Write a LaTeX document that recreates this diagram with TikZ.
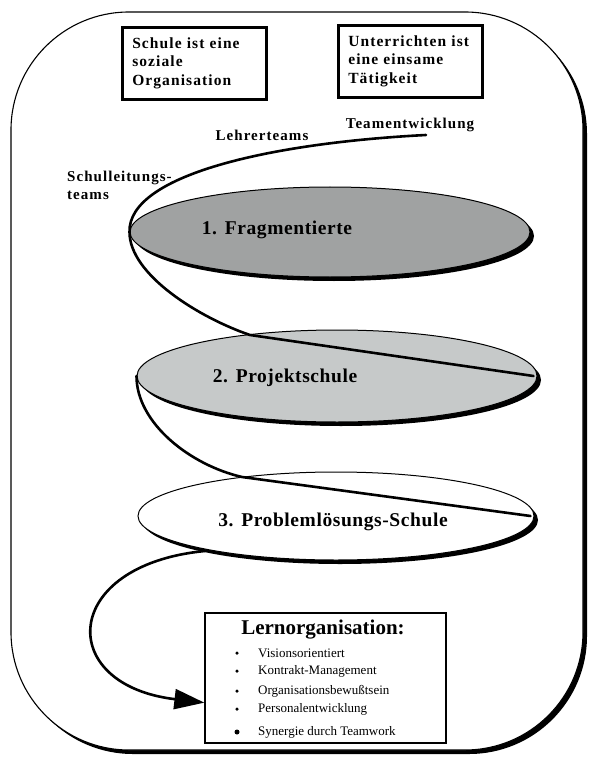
\documentclass[tikz,border=0pt]{standalone}
\usepackage{fontspec}
\setmainfont{Liberation Serif}
\newfontfamily\spacedserif[LetterSpace=7]{Liberation Serif}
\newfontfamily\lightspaced[LetterSpace=3]{Liberation Serif}
\usetikzlibrary{arrows.meta,shapes.geometric,shadows,calc}
\definecolor{fragfill}{RGB}{160,162,162}
\definecolor{projfill}{RGB}{198,201,201}
\newcommand\boxfont{\spacedserif\bfseries\fontsize{15.5}{18.5}\selectfont}
\newcommand\tagfont{\spacedserif\bfseries\fontsize{15}{18}\selectfont}
\newcommand\stagefont{\lightspaced\bfseries\fontsize{19.5}{22}\selectfont}
\begin{document}
\begin{tikzpicture}[x=1pt,y=-1pt,
  thesis/.style={draw, line width=2.6pt, text width=124pt, inner xsep=10pt,
    minimum height=72pt, align=left, font=\boxfont, anchor=north west},
  stage/.style={ellipse, draw=black, line width=1pt, inner sep=0pt,
    drop shadow={shadow xshift=4pt, shadow yshift=-4pt, opacity=1, fill=black}},
  spiral/.style={line width=2.6pt, line cap=round},
  tag/.style={font=\tagfont, inner sep=0pt},
  stagelabel/.style={font=\stagefont, inner sep=0pt},
  item/.style={font=\fontsize{13}{15}\selectfont, anchor=west, inner sep=0pt},
  dot/.style={circle, fill=black, inner sep=0pt, minimum size=3.5pt},
]
\useasboundingbox (0,0) rectangle (589,759);

% outer frame with its shadow on the right and at the bottom
\fill[rounded corners=118pt] (15,16) rectangle (587,754);
\draw[fill=white, line width=1.1pt, rounded corners=118pt] (11,12) rectangle (583,750);

% the two statements at the top
\node[thesis] (social) at (121,26) {Schule ist eine\\soziale\\Organisation};
\node[thesis] (lonely) at (337,24) {Unterrichten ist\\eine einsame\\Tätigkeit};

% the three stages
\node[stage, fill=fragfill, minimum width=400pt, minimum height=90pt] (frag) at (330,232) {};
\node[stage, fill=projfill, minimum width=400pt, minimum height=92pt] (proj) at (337,376) {};
\node[stage, fill=white, minimum width=396pt, minimum height=88pt] (prob) at (336,516) {};

\node[stagelabel] (fragtext) at (277,230) {1.\hspace{0.4em}Fragmentierte};
\node[stagelabel] (projtext) at (285,378) {2.\hspace{0.4em}Projektschule};
\node[stagelabel] (probtext) at (333,522) {3.\hspace{0.4em}Problemlösungs-Schule};

% team labels along the spiral
\node[tag] (devel) at (410,125) {Teamentwicklung};
\node[tag] (teachers) at (262,135) {Lehrerteams};
\node[tag, align=left, anchor=west] (heads) at (67,185) {Schulleitungs-\\teams};

% the spiral winding down through the stages
\coordinate (spiralstart) at (426,135);
\coordinate (in2) at (250,335);
\coordinate (out2) at ($(proj.east)+(-4,0)$);
\coordinate (in3) at (242,477);
\coordinate (out3) at ($(prob.east)+(-4,0)$);
\coordinate (leave3) at (205,551);

\draw[spiral] (spiralstart) .. controls (270,143) and (128,175) .. (frag.west)
  .. controls ($(frag.west)+(0,43)$) and (200,318) .. (in2) -- (out2);
\draw[spiral] (proj.west) .. controls ($(proj.west)+(0,47)$) and (190,465) .. (in3) -- (out3);

% the learning organisation
\node[draw, line width=1.3pt, minimum width=241pt, minimum height=130pt, inner sep=0pt] (lo) at (325.5,678) {};
\node[font=\bfseries\fontsize{21}{24}\selectfont, inner sep=0pt] (lotitle) at (323,630) {Lernorganisation:};
\foreach \name/\y/\txt in {vis/653/Visionsorientiert, kon/671/Kontrakt-Management,
    org/691/Organisationsbewußtsein, pers/709/Personalentwicklung}
{
  \node[dot] (dot-\name) at (237,\y) {};
  \node[item] (\name) at (258,\y) {\txt};
}
\node[dot, minimum size=5pt] (dot-syn) at (237,732) {};
\node[item] (syn) at (258,732) {Synergie durch Teamwork};

\draw[spiral, -{Triangle[length=30pt,width=20pt]}] (leave3)
  .. controls (60,565) and (55,685) .. ($(lo.south west)+(0,-41)$);
\end{tikzpicture}
\end{document}
